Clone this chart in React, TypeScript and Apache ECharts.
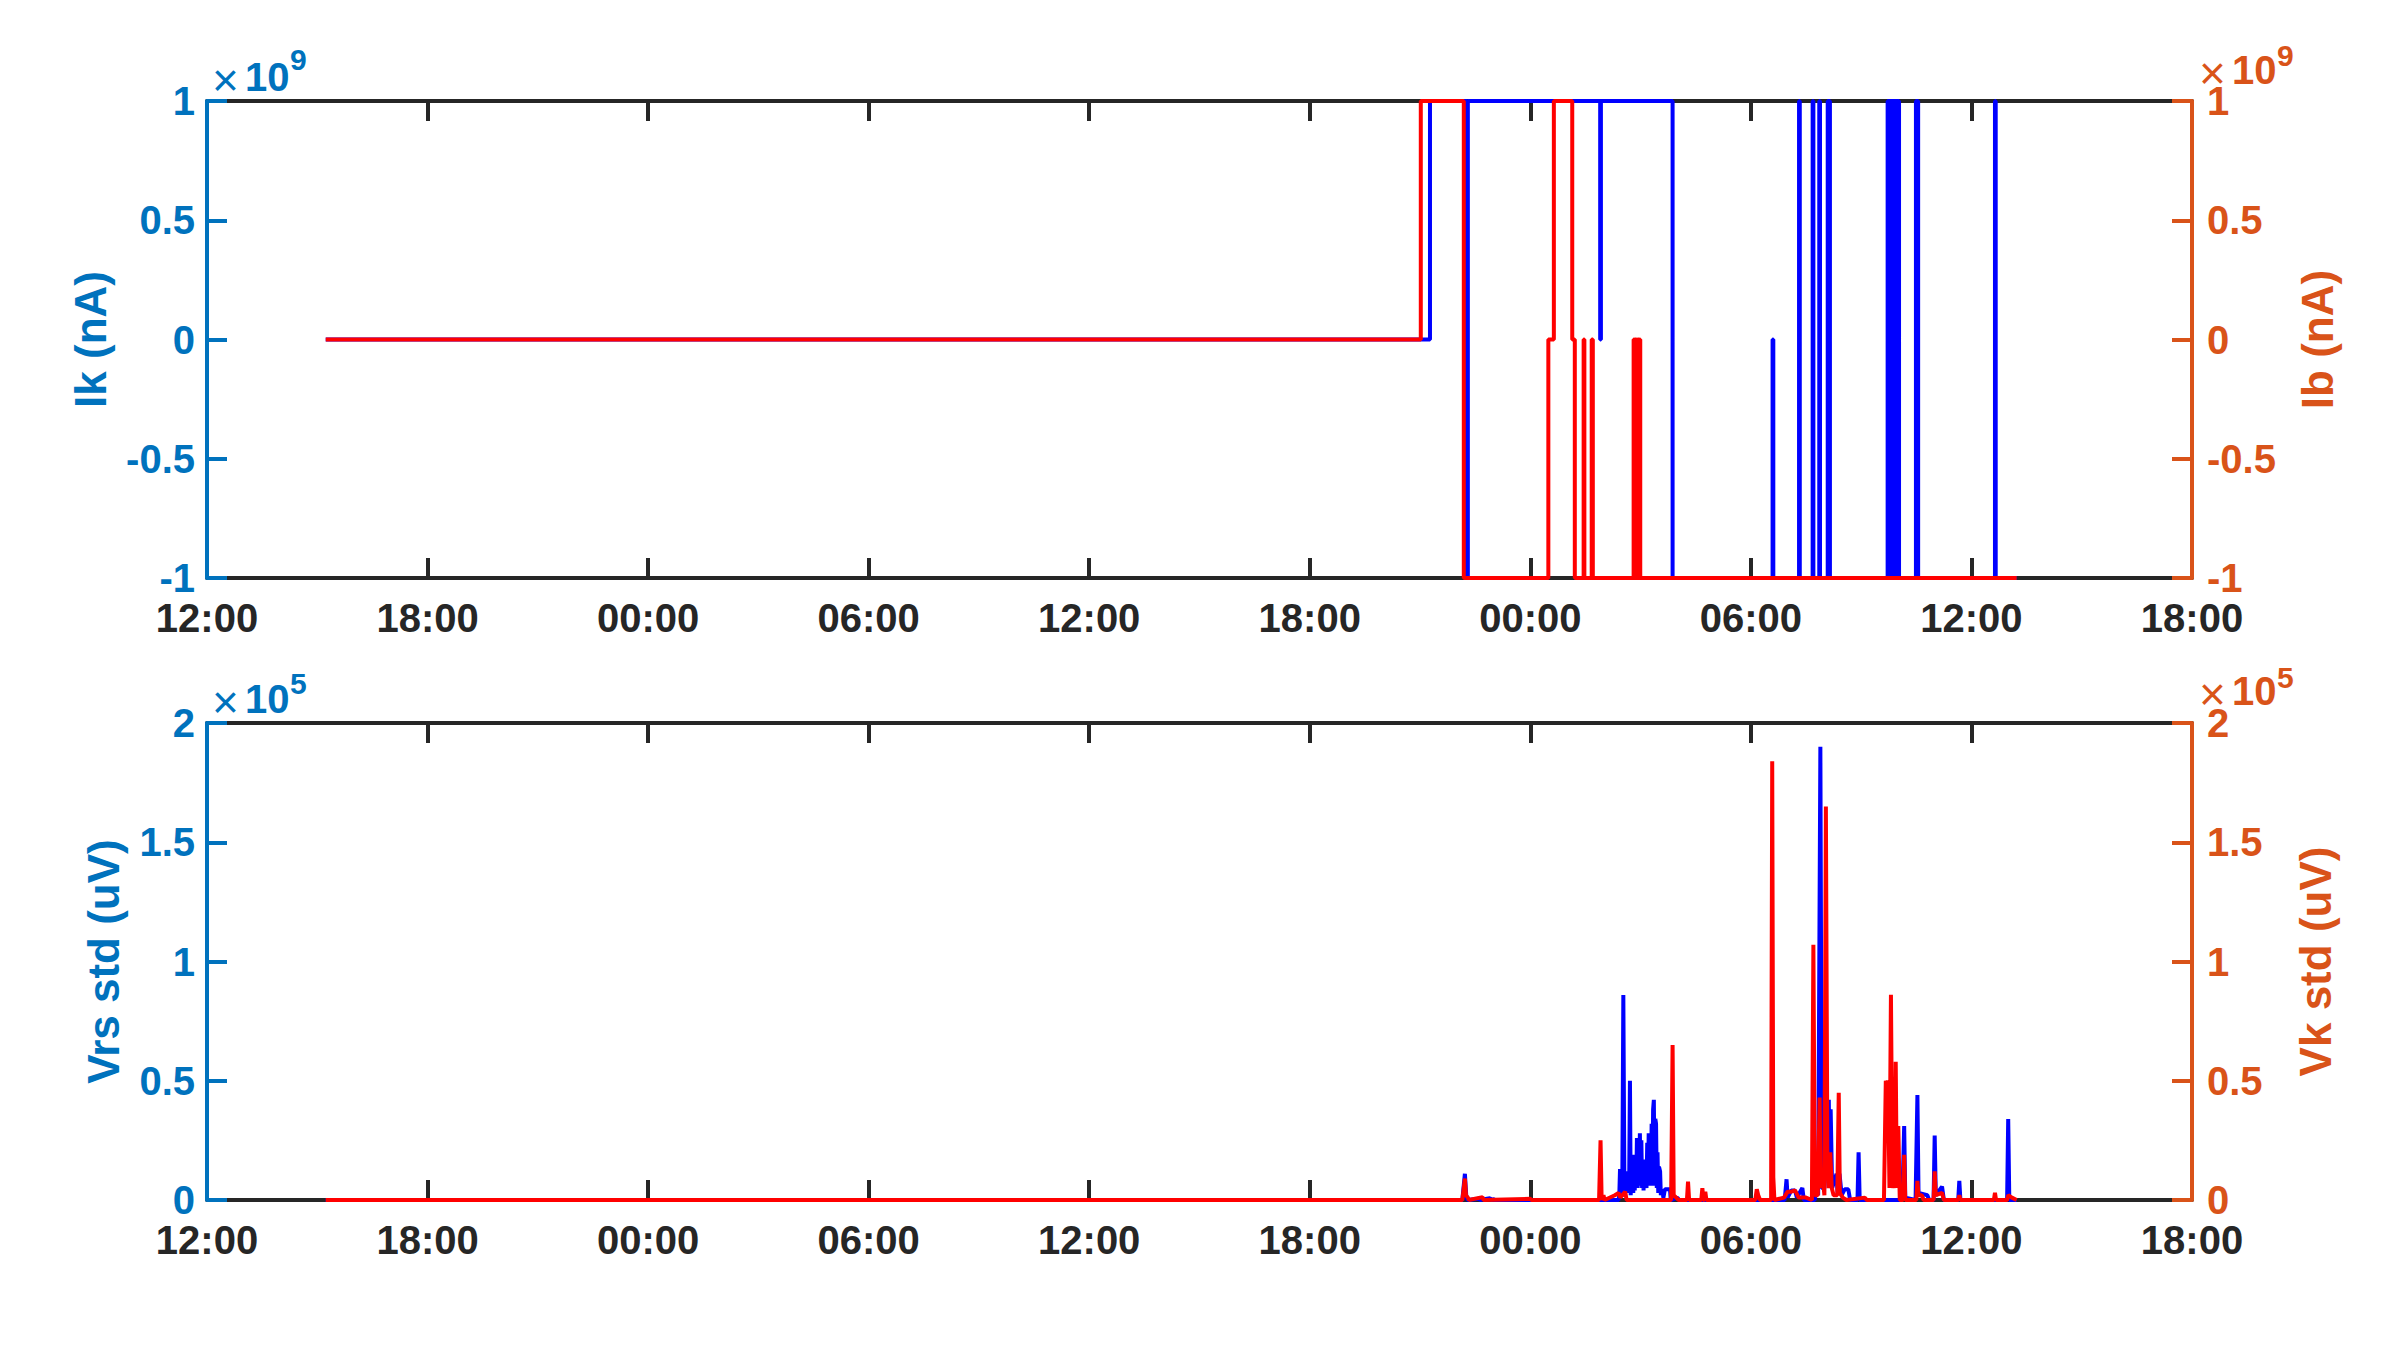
import React, { useEffect, useRef } from "react";
import * as echarts from "echarts";

// ---- data (time in hours after 12:00 of the first day) ----
const X_TICK_LABELS = ["12:00", "18:00", "00:00", "06:00", "12:00", "18:00", "00:00", "06:00", "12:00", "18:00"];

// Ik (nA), step data: [time, value]
const IK_STEPS: number[][] = [
  [3.23, 0], [33.27, 1e9], [34.27, -1e9], [34.3, 1e9], [37.9, 0], [37.92, 1e9], [39.87, -1e9],
  [42.59, 0], [42.61, -1e9], [43.31, 1e9], [43.33, -1e9], [43.68, 1e9], [43.7, -1e9],
  [43.86, 1e9], [43.88, -1e9], [44.09, 1e9], [44.11, -1e9], [44.13, 1e9], [44.15, -1e9],
  [45.72, 1e9], [45.74, -1e9], [45.76, 1e9], [45.78, -1e9], [45.8, 1e9], [45.82, -1e9],
  [45.84, 1e9], [45.86, -1e9], [45.88, 1e9], [45.92, 0], [45.94, 1e9], [45.97, -1e9],
  [45.99, 1e9], [46.03, -1e9], [46.49, 1e9], [46.51, -1e9], [46.53, 1e9], [46.55, -1e9],
  [48.64, 1e9], [48.66, -1e9], [49.23, -1e9],
];

// Ib (nA), step data: [time, value]
const IB_STEPS: number[][] = [
  [3.23, 0], [33.02, 1e9], [34.19, -1e9], [36.49, 0], [36.64, 1e9], [37.14, 0], [37.21, -1e9],
  [37.45, 0], [37.47, -1e9], [37.67, 0], [37.7, -1e9], [38.81, 0], [38.83, -1e9], [38.85, 0],
  [38.87, -1e9], [38.89, 0], [38.91, -1e9], [38.93, 0], [38.95, -1e9], [38.97, 0], [38.99, -1e9],
  [49.23, -1e9],
];

// Vrs std (uV): [time, value]
const VRS_POINTS: number[][] = [
  [3.23, 0], [34.15, 0], [34.22, 11000], [34.26, 1000], [34.3, 0], [34.6, 500], [34.63, 0],
  [34.9, 800], [34.93, 0], [35.0, 300], [35.03, 0],
  [38.4, 0], [38.42, 2000], [38.44, 13000], [38.47, 2000], [38.5, 1500], [38.53, 86000],
  [38.56, 2000], [38.6, 5000], [38.63, 12000], [38.66, 3000], [38.69, 10000], [38.71, 50000],
  [38.73, 2000], [38.76, 13000], [38.78, 13000], [38.8, 3000], [38.82, 19000], [38.84, 4000],
  [38.86, 19000], [38.88, 5000], [38.9, 26000], [38.92, 5000], [38.94, 26000], [38.96, 6000],
  [38.98, 28000], [39.0, 6000], [39.02, 25000], [39.04, 5000], [39.06, 17000], [39.08, 4000],
  [39.1, 17000], [39.12, 5000], [39.14, 17000], [39.16, 5000], [39.18, 24000], [39.2, 6000],
  [39.22, 28000], [39.24, 7000], [39.26, 28000], [39.28, 6000], [39.3, 32000], [39.32, 6000],
  [39.34, 38000], [39.36, 42000], [39.38, 6000], [39.4, 34000], [39.42, 32000], [39.44, 5000],
  [39.46, 20000], [39.48, 3000], [39.5, 14000], [39.53, 12000], [39.55, 2000], [39.58, 4500],
  [39.62, 1000], [39.66, 4500], [39.72, 4500], [39.8, 4500], [39.82, 0], [40.0, 1000], [40.05, 0],
  [42.92, 0], [42.97, 8700], [43.0, 1000], [43.1, 4000], [43.2, 4000], [43.25, 1000], [43.4, 5000],
  [43.44, 0], [43.74, 0], [43.79, 18000], [43.83, 2000], [43.89, 190000], [43.93, 5000],
  [44.0, 5000], [44.12, 42000], [44.14, 5000], [44.17, 38000], [44.21, 5000], [44.33, 11000],
  [44.36, 3000], [44.41, 11000], [44.47, 2000], [44.55, 4500], [44.65, 4500], [44.7, 0], [44.9, 0],
  [44.93, 20000], [44.96, 0],
  [46.12, 0], [46.17, 31000], [46.2, 1000], [46.48, 0], [46.53, 44000], [46.56, 3000],
  [46.8, 2000], [46.85, 0], [46.97, 0], [47.0, 27000], [47.03, 2000], [47.2, 5600], [47.25, 0],
  [47.64, 0], [47.67, 8000], [47.7, 0], [48.97, 0], [49.0, 34000], [49.03, 0], [49.23, 0],
];

// Vk std (uV): [time, value]
const VK_POINTS: number[][] = [
  [3.23, 0], [34.15, 0], [34.22, 9000], [34.25, 2000], [34.3, 1000], [34.33, 0], [34.7, 1200],
  [34.73, 0], [36.0, 500], [36.03, 0],
  [37.87, 0], [37.91, 25000], [37.94, 0], [37.99, 2000], [38.02, 0], [38.3, 2000], [38.4, 3000],
  [38.45, 1000], [38.58, 3500], [38.62, 0],
  [39.83, 0], [39.87, 65000], [39.9, 2000], [40.0, 500], [40.03, 0], [40.26, 0], [40.29, 7700],
  [40.32, 0], [40.65, 0], [40.68, 5000], [40.71, 0], [40.73, 0], [40.76, 3500], [40.79, 0],
  [42.12, 0], [42.16, 4500], [42.2, 2000], [42.25, 0], [42.55, 0], [42.58, 184000], [42.61, 9500],
  [42.64, 0], [42.9, 1000], [43.0, 3500], [43.1, 3500], [43.2, 4000], [43.3, 1000], [43.5, 1000],
  [43.66, 0], [43.7, 107000], [43.74, 2000], [43.82, 2000], [43.87, 43000], [43.9, 5000],
  [43.95, 10000], [44.0, 2000], [44.04, 165000], [44.08, 20000], [44.12, 5000], [44.16, 20000],
  [44.2, 5000], [44.25, 2000], [44.35, 2000], [44.39, 45000], [44.42, 3000], [44.5, 1000],
  [44.6, 0], [45.1, 1000], [45.15, 0],
  [45.62, 0], [45.67, 50000], [45.7, 48000], [45.73, 50000], [45.77, 5000], [45.81, 86000],
  [45.85, 5000], [45.88, 20000], [45.91, 5000], [45.94, 58000], [45.97, 5000], [46.01, 31000],
  [46.05, 0], [46.14, 0], [46.17, 19000], [46.2, 0], [46.5, 0], [46.53, 8000], [46.56, 2000],
  [46.65, 2000], [46.7, 0], [46.97, 0], [47.0, 12000], [47.03, 2000], [47.2, 3000], [47.25, 0],
  [47.64, 0], [47.67, 2000], [47.7, 0], [48.61, 0], [48.64, 3000], [48.67, 0], [48.97, 0],
  [49.0, 2000], [49.1, 1000], [49.23, 0],
];

// ---- styling ----
const FONT = "'Liberation Sans', Arial, Helvetica, sans-serif";
const DARK = "#262626";
const BLUE_AX = "#0072BD";
const ORANGE_AX = "#D95319";
const AX_W = 4;
const DATA_W = 4;

function xAx(grid: number, position: string, showLabel: boolean) {
  return {
    type: "value",
    gridIndex: grid,
    position,
    min: 0,
    max: 54,
    interval: 6,
    z: 0,
    axisLine: { show: true, onZero: false, lineStyle: { color: DARK, width: AX_W } },
    axisTick: { show: true, inside: true, length: 20, lineStyle: { color: DARK, width: AX_W } },
    axisLabel: {
      show: showLabel,
      formatter: (v: number) => X_TICK_LABELS[Math.round(v / 6)],
      color: DARK,
      fontSize: 40,
      fontWeight: "bold",
      fontFamily: FONT,
      margin: 20,
    },
    splitLine: { show: false },
  };
}

function yAx(
  grid: number,
  position: string,
  color: string,
  min: number,
  max: number,
  interval: number,
  scale: number,
  name: string,
  nameGap: number,
  labelMargin: number
) {
  return {
    type: "value",
    gridIndex: grid,
    position,
    min,
    max,
    interval,
    z: 1,
    name,
    nameLocation: "middle",
    nameRotate: 90,
    nameGap,
    nameTextStyle: { color, fontSize: 44, fontWeight: "bold", fontFamily: FONT },
    axisLine: { show: true, onZero: false, lineStyle: { color, width: AX_W } },
    axisTick: { show: true, inside: true, length: 20, lineStyle: { color, width: AX_W } },
    axisLabel: {
      formatter: (v: number) => String(Math.round((v / scale) * 100) / 100),
      color,
      fontSize: 40,
      fontWeight: "bold",
      fontFamily: FONT,
      margin: labelMargin,
    },
    splitLine: { show: false },
  };
}

function expo(x: number, yc: number, ysup: number, color: string, exp: string) {
  return [
    { type: "text", x: x - 1, y: yc + 3, style: { text: "×", fill: color, fontSize: 46, fontWeight: "normal", fontFamily: FONT, align: "left", verticalAlign: "middle" } },
    { type: "text", x: x + 32, y: yc, style: { text: "10", fill: color, fontSize: 40, fontWeight: "bold", fontFamily: FONT, align: "left", verticalAlign: "middle" } },
    { type: "text", x: x + 77, y: ysup, style: { text: exp, fill: color, fontSize: 30, fontWeight: "bold", fontFamily: FONT, align: "left", verticalAlign: "middle" } },
  ];
}

export default function App() {
  const ref = useRef<HTMLDivElement>(null);
  useEffect(() => {
    document.body.style.margin = "0";
    const chart = echarts.init(ref.current as HTMLDivElement, null, { renderer: "svg", width: 2400, height: 1350 });
    const lineBase = { type: "line", showSymbol: false, symbol: "none", silent: true, clip: true };
    chart.setOption({
      animation: false,
      backgroundColor: "#ffffff",
      grid: [
        { left: 207, top: 101, width: 1985, height: 477 },
        { left: 207, top: 723, width: 1985, height: 477 },
      ],
      xAxis: [xAx(0, "bottom", true), xAx(0, "top", false), xAx(1, "bottom", true), xAx(1, "top", false)],
      yAxis: [
        yAx(0, "left", BLUE_AX, -1e9, 1e9, 5e8, 1e9, "Ik (nA)", 95, 12),
        yAx(0, "right", ORANGE_AX, -1e9, 1e9, 5e8, 1e9, "Ib (nA)", 103, 15),
        yAx(1, "left", BLUE_AX, 0, 2e5, 5e4, 1e5, "Vrs std (uV)", 82, 12),
        yAx(1, "right", ORANGE_AX, 0, 2e5, 5e4, 1e5, "Vk std (uV)", 101, 15),
      ],
      series: [
        { ...lineBase, name: "Ik", xAxisIndex: 0, yAxisIndex: 0, step: "end", data: IK_STEPS, lineStyle: { color: "#0000FF", width: DATA_W }, z: 2 },
        { ...lineBase, name: "Ib", xAxisIndex: 0, yAxisIndex: 1, step: "end", data: IB_STEPS, lineStyle: { color: "#FF0000", width: DATA_W }, z: 3 },
        { ...lineBase, name: "Vrs", xAxisIndex: 2, yAxisIndex: 2, data: VRS_POINTS, lineStyle: { color: "#0000FF", width: DATA_W }, z: 2 },
        { ...lineBase, name: "Vk", xAxisIndex: 2, yAxisIndex: 3, data: VK_POINTS, lineStyle: { color: "#FF0000", width: DATA_W }, z: 3 },
      ],
      graphic: [
        ...expo(213, 77, 59, BLUE_AX, "9"),
        ...expo(2200, 70, 55, ORANGE_AX, "9"),
        ...expo(213, 699, 683, BLUE_AX, "5"),
        ...expo(2200, 691, 677, ORANGE_AX, "5"),
      ],
    });
    return () => chart.dispose();
  }, []);
  return <div ref={ref} style={{ width: 2400, height: 1350, background: "#fff" }} />;
}
